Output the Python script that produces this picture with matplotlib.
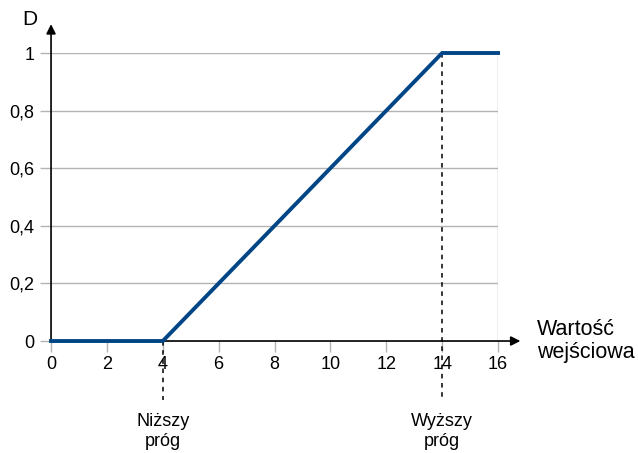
import matplotlib.pyplot as plt

plt.rcParams['font.family'] = ['Liberation Sans', 'DejaVu Sans']

# data
x_vals = [0, 4, 14, 16]
d_vals = [0, 0, 1, 1]
x_ticks = [0, 2, 4, 6, 8, 10, 12, 14, 16]
y_ticks = [0, 0.2, 0.4, 0.6, 0.8, 1]
y_labels = ['0', '0,2', '0,4', '0,6', '0,8', '1']
low_thr = 4
high_thr = 14

fig = plt.figure(figsize=(6.38, 4.53), dpi=100)
ax = fig.add_axes([0.08, 0.2472, 0.7006, 0.6358])

ax.set_xlim(0, 16)
ax.set_ylim(0, 1)
for s in ax.spines.values():
    s.set_visible(False)

ax.set_xticks(x_ticks)
ax.set_yticks(y_ticks)
ax.set_yticklabels(y_labels)
ax.tick_params(axis='both', colors='#b3b3b3', length=8, width=1,
               labelcolor='black', labelsize=13, pad=3)
ax.tick_params(axis='y', pad=4)
ax.grid(axis='y', color='#b3b3b3', lw=1)
ax.axvline(16, color='#b3b3b3', lw=1)

# axes with arrows
ax.annotate('', xy=(16.8, 0), xytext=(0, 0), xycoords='data',
            arrowprops=dict(arrowstyle='-|>', color='black', lw=1.2,
                            mutation_scale=14, shrinkA=0, shrinkB=0),
            annotation_clip=False, zorder=4)
ax.annotate('', xy=(0, 1.1), xytext=(0, 0), xycoords='data',
            arrowprops=dict(arrowstyle='-|>', color='black', lw=1.2,
                            mutation_scale=14, shrinkA=0, shrinkB=0),
            annotation_clip=False, zorder=4)

# threshold dashed lines
ax.plot([low_thr, low_thr], [0, -0.205], color='black', ls=(0, (3, 3)), lw=1.1,
        clip_on=False, zorder=5)
ax.plot([high_thr, high_thr], [1, -0.205], color='black', ls=(0, (3, 3)), lw=1.1,
        clip_on=False, zorder=5)

ax.plot(x_vals, d_vals, color='#004586', lw=2.8, clip_on=False, zorder=6,
        solid_joinstyle='miter')

ax.text(low_thr, -0.25, 'Niższy\npróg', ha='center', va='top', fontsize=13,
        linespacing=1.2)
ax.text(high_thr, -0.25, 'Wyższy\npróg', ha='center', va='top', fontsize=13,
        linespacing=1.2)
ax.text(17.4, 0.0, 'Wartość\nwejściowa', ha='left', va='center', fontsize=15.5,
        linespacing=1.15)
ax.text(-0.75, 1.115, 'D', ha='center', va='center', fontsize=15)

plt.savefig('out.png', dpi=100)
